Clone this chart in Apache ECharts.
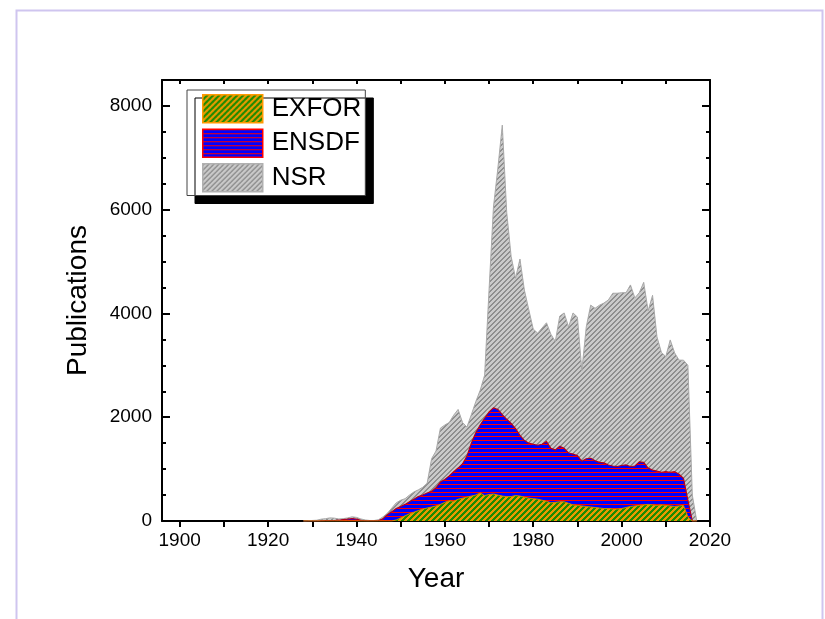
<!DOCTYPE html>
<html>
<head>
<meta charset="utf-8">
<script src="https://cdn.jsdelivr.net/npm/echarts@6/dist/echarts.min.js"></script>
<style>
  html, body { margin: 0; padding: 0; background: #fff; }
  #chart { width: 825px; height: 619px; }
</style>
</head>
<body>
<div id="chart"></div>
<script>
// Publication years
var years = [
  1928, 1929,
  1930, 1931, 1932, 1933, 1934, 1935, 1936, 1937, 1938, 1939,
  1940, 1941, 1942, 1943, 1944, 1945, 1946, 1947, 1948, 1949,
  1950, 1951, 1952, 1953, 1954, 1955, 1956, 1957, 1958, 1959,
  1960, 1961, 1962, 1963, 1964, 1965, 1966, 1967, 1968, 1969,
  1970, 1971, 1972, 1973, 1974, 1975, 1976, 1977, 1978, 1979,
  1980, 1981, 1982, 1983, 1984, 1985, 1986, 1987, 1988, 1989,
  1990, 1991, 1992, 1993, 1994, 1995, 1996, 1997, 1998, 1999,
  2000, 2001, 2002, 2003, 2004, 2005, 2006, 2007, 2008, 2009,
  2010, 2011, 2012, 2013, 2014, 2015, 2016, 2017
];

// NSR: all nuclear science references per year
var nsr = [
  0, 5,
  10, 15, 35, 45, 60, 55, 40, 45, 60, 80,
  70, 40, 20, 10, 10, 25, 80, 150, 250, 350,
  400, 430, 500, 560, 600, 650, 730, 1200, 1350, 1790,
  1850, 1900, 2040, 2150, 1900, 1810, 2050, 2300, 2520, 2810,
  4450, 6050, 6800, 7630, 5950, 5100, 4680, 5050, 4450, 4070,
  3700, 3620, 3720, 3820, 3600, 3460, 3950, 4010, 3740, 4010,
  3930, 2900, 3740, 4160, 4100, 4160, 4200, 4260, 4390, 4390,
  4400, 4400, 4550, 4300, 4400, 4600, 4050, 4350, 3550, 3250,
  3170, 3490, 3240, 3100, 3100, 3000, 500, 0
];

// ENSDF: references used in structure evaluations
var ensdf = [
  0, 0,
  0, 0, 5, 10, 10, 10, 15, 25, 35, 45,
  35, 15, 5, 5, 5, 10, 40, 120, 180, 240,
  280, 320, 370, 420, 470, 500, 540, 570, 640, 750,
  800, 870, 950, 1020, 1100, 1250, 1500, 1700, 1850, 1980,
  2100, 2180, 2150, 2050, 1960, 1880, 1780, 1650, 1550, 1500,
  1480, 1460, 1480, 1530, 1400, 1370, 1440, 1400, 1310, 1290,
  1260, 1150, 1200, 1210, 1160, 1130, 1120, 1080, 1060, 1050,
  1070, 1080, 1050, 1060, 1140, 1130, 1020, 980, 960, 940,
  950, 940, 950, 900, 820, 400, 0, 0
];

// EXFOR: references with compiled reaction data
var exfor = [
  0, 0,
  0, 0, 0, 0, 0, 0, 0, 0, 0, 0,
  0, 0, 0, 0, 0, 0, 0, 0, 0, 20,
  60, 100, 140, 170, 200, 230, 250, 270, 290, 320,
  360, 390, 380, 420, 440, 460, 480, 500, 540, 490,
  510, 520, 500, 480, 470, 470, 490, 480, 460, 440,
  430, 420, 400, 380, 350, 360, 370, 370, 340, 310,
  300, 290, 280, 270, 260, 250, 240, 240, 230, 230,
  240, 260, 280, 290, 300, 310, 320, 310, 300, 310,
  300, 290, 280, 290, 300, 80, 0, 0
];

var xLabelValues = [1900, 1920, 1940, 1960, 1980, 2000, 2020];
var xTickValues = [1900, 1910, 1920, 1930, 1940, 1950, 1960, 1970, 1980, 1990, 2000, 2010, 2020];
var yLabelValues = [0, 2000, 4000, 6000, 8000];
var yMinorValues = [500, 1000, 1500, 2500, 3000, 3500, 4500, 5000, 5500, 6500, 7000, 7500];

function pairs(vals) {
  return years.map(function (y, i) { return [y, vals[i]]; });
}

// Hatched fills, painted pixel by pixel so the stripes stay crisp
function diagonalHatch(period, stripe, base, ink) {
  var c = document.createElement('canvas');
  c.width = period; c.height = period;
  var ctx = c.getContext('2d');
  for (var x = 0; x < period; x++) {
    for (var y = 0; y < period; y++) {
      ctx.fillStyle = ((x + y) % period) < stripe ? ink : base;
      ctx.fillRect(x, y, 1, 1);
    }
  }
  return { image: c, repeat: 'repeat' };
}
function horizontalHatch(rows) {
  var c = document.createElement('canvas');
  c.width = 4; c.height = rows.length;
  var ctx = c.getContext('2d');
  rows.forEach(function (col, i) { ctx.fillStyle = col; ctx.fillRect(0, i, 4, 1); });
  return { image: c, repeat: 'repeat' };
}

var exforFill = diagonalHatch(6, 3, '#1f8a00', '#e89a00');
var ensdfFill = horizontalHatch(['#ff0000', '#0000ff', '#0000ff', '#0000ff']);
var nsrFill = diagonalHatch(5, 2, '#cacaca', '#8e8e8e');

var FONT = 'Liberation Sans, Arial, sans-serif';
function plain(v) { return String(v); }

var chart = echarts.init(document.getElementById('chart'), null, { renderer: 'canvas' });

var baseX = { type: 'value', min: 1896, max: 2020, splitLine: { show: false } };
var baseY = { type: 'value', min: 0, max: 8500, splitLine: { show: false } };
var blackLine = { show: true, onZero: false, lineStyle: { color: '#000', width: 2 } };

chart.setOption({
  animation: false,
  backgroundColor: '#fff',
  graphic: [{
    type: 'rect',
    shape: { x: 16.5, y: 10.5, width: 806, height: 640 },
    style: { fill: 'none', stroke: '#cfc5ef', lineWidth: 2 },
    silent: true
  }],
  grid: { left: 162, top: 80, width: 548, height: 441 },
  legend: {
    left: 187, top: 90,
    orient: 'vertical',
    padding: [4, 4, 3, 15],
    itemGap: 5,
    itemWidth: 60,
    itemHeight: 28,
    icon: 'rect',
    backgroundColor: '#fff',
    borderColor: '#444',
    borderWidth: 1,
    shadowColor: '#000',
    shadowBlur: 0,
    shadowOffsetX: 8,
    shadowOffsetY: 8,
    textStyle: { fontSize: 26, fontFamily: FONT, color: '#000', padding: [0, 0, 0, 4] },
    data: [
      { name: 'EXFOR', itemStyle: { color: exforFill, borderColor: '#ff9900', borderWidth: 1.5 } },
      { name: 'ENSDF', itemStyle: { color: ensdfFill, borderColor: '#ff0000', borderWidth: 1.5 } },
      { name: 'NSR', itemStyle: { color: nsrFill, borderColor: '#b0b0b0', borderWidth: 1.5 } }
    ]
  },
  xAxis: [
    Object.assign({}, baseX, {
      position: 'bottom',
      name: 'Year', nameLocation: 'middle', nameGap: 44,
      nameTextStyle: { fontSize: 28, fontFamily: FONT, color: '#000' },
      axisLine: blackLine,
      axisTick: { show: true, inside: false, length: 6, customValues: xTickValues, lineStyle: { color: '#000', width: 2 } },
      axisLabel: { show: true, customValues: xLabelValues, formatter: plain, margin: 10, fontSize: 19, fontFamily: FONT, color: '#000' }
    }),
    Object.assign({}, baseX, {
      position: 'top',
      axisLine: blackLine,
      axisTick: { show: true, inside: true, length: 4, customValues: xTickValues, lineStyle: { color: '#000', width: 2 } },
      axisLabel: { show: false }
    })
  ],
  yAxis: [
    Object.assign({}, baseY, {
      position: 'left',
      name: 'Publications', nameLocation: 'middle', nameGap: 70, nameRotate: 90,
      nameTextStyle: { fontSize: 28, fontFamily: FONT, color: '#000' },
      axisLine: blackLine,
      axisTick: { show: true, inside: true, length: 8, customValues: yLabelValues, lineStyle: { color: '#000', width: 2 } },
      axisLabel: { show: true, customValues: yLabelValues, formatter: plain, margin: 10, fontSize: 19, fontFamily: FONT, color: '#000' }
    }),
    Object.assign({}, baseY, {
      position: 'left',
      axisLine: { show: false },
      axisTick: { show: true, inside: true, length: 4, customValues: yMinorValues, lineStyle: { color: '#000', width: 2 } },
      axisLabel: { show: false }
    }),
    Object.assign({}, baseY, {
      position: 'right',
      axisLine: blackLine,
      axisTick: { show: true, inside: true, length: 8, customValues: yLabelValues, lineStyle: { color: '#000', width: 2 } },
      axisLabel: { show: false }
    }),
    Object.assign({}, baseY, {
      position: 'right',
      axisLine: { show: false },
      axisTick: { show: true, inside: true, length: 4, customValues: yMinorValues, lineStyle: { color: '#000', width: 2 } },
      axisLabel: { show: false }
    })
  ],
  series: [
    {
      name: 'NSR', type: 'line', data: pairs(nsr),
      showSymbol: false, symbol: 'none',
      itemStyle: { color: nsrFill },
      lineStyle: { color: '#a8a8a8', width: 1 },
      areaStyle: { color: nsrFill, opacity: 1 },
      z: 1
    },
    {
      name: 'ENSDF', type: 'line', data: pairs(ensdf),
      showSymbol: false, symbol: 'none',
      itemStyle: { color: ensdfFill },
      lineStyle: { color: '#b00020', width: 1.2 },
      areaStyle: { color: ensdfFill, opacity: 1 },
      z: 2
    },
    {
      name: 'EXFOR', type: 'line', data: pairs(exfor),
      showSymbol: false, symbol: 'none',
      itemStyle: { color: exforFill },
      lineStyle: { color: '#c88a00', width: 1 },
      areaStyle: { color: exforFill, opacity: 1 },
      z: 3
    }
  ]
});
</script>
</body>
</html>
